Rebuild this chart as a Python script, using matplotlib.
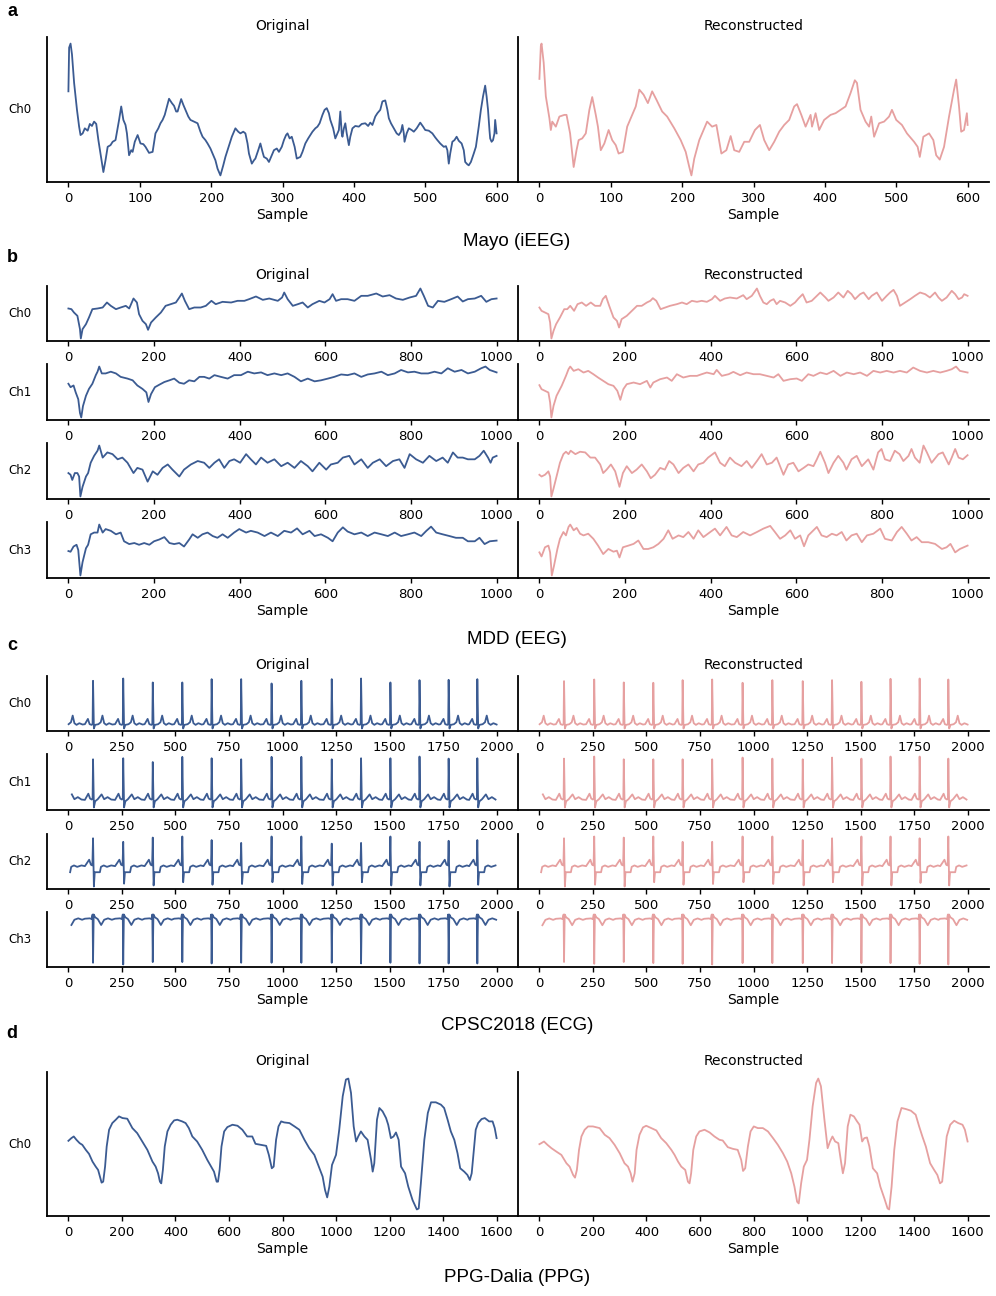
import matplotlib
matplotlib.use('Agg')
import matplotlib.pyplot as plt

BLUE = '#3b5b92'
PINK = '#e6a0a0'
W, H = 996, 1296

# ---------------- a: Mayo (iEEG), 600 samples, (sample, amplitude)
mayo_orig = [(0, 270), (1, 400), (3, 412), (5, 380), (8, 295), (12, 215), (15, 165), (17, 140),
             (20, 145), (23, 160), (27, 153), (30, 173), (33, 167), (36, 180), (39, 173), (42, 125),
             (45, 85), (49, 30), (52, 65), (55, 105), (59, 110), (62, 120), (66, 125), (71, 185),
             (74, 225), (77, 185), (80, 170), (82, 145), (85, 80), (88, 95), (90, 90), (93, 120),
             (97, 140), (101, 115), (105, 113), (108, 105), (113, 87), (118, 90), (122, 145), (126, 160),
             (129, 175), (132, 185), (135, 200), (141, 248), (145, 235), (148, 227), (151, 210), (153, 210),
             (158, 247), (161, 230), (164, 215), (168, 195), (171, 185), (176, 180), (181, 175), (185, 150),
             (188, 135), (192, 125), (195, 115), (199, 100), (202, 85), (206, 65), (209, 40), (213, 20),
             (217, 50), (220, 75), (223, 95), (226, 115), (229, 135), (232, 150), (234, 160), (238, 150),
             (241, 145), (245, 150), (248, 145), (251, 115), (253, 85), (257, 55), (260, 65), (262, 70),
             (266, 95), (269, 115), (272, 90), (274, 75), (278, 70), (281, 60), (285, 80), (288, 95),
             (292, 100), (295, 90), (299, 105), (302, 125), (305, 140), (307, 145), (310, 130), (313, 135),
             (317, 105), (320, 70), (325, 75), (328, 90), (332, 115), (336, 130), (339, 140), (342, 150),
             (346, 160), (349, 165), (352, 175), (356, 200), (359, 215), (362, 220), (365, 205), (367, 185),
             (371, 160), (374, 130), (377, 145), (379, 155), (381, 210), (383, 145), (384, 135), (386, 160),
             (388, 175), (390, 145), (393, 110), (395, 135), (398, 160), (402, 167), (407, 165), (411, 173),
             (416, 175), (420, 167), (423, 177), (426, 170), (430, 195), (433, 205), (437, 215), (440, 240),
             (444, 243), (447, 215), (449, 190), (452, 175), (456, 160), (460, 145), (463, 140), (466, 150),
             (468, 170), (470, 145), (471, 120), (474, 145), (477, 160), (481, 155), (484, 150), (488, 160),
             (493, 177), (497, 165), (500, 155), (505, 153), (510, 145), (514, 133), (517, 125), (521, 115),
             (526, 105), (529, 107), (531, 95), (533, 55), (535, 85), (538, 120), (541, 125), (544, 135),
             (547, 123), (551, 115), (554, 95), (556, 60), (559, 53), (561, 50), (564, 60), (568, 85),
             (571, 105), (575, 165), (578, 215), (581, 255), (584, 287), (586, 255), (588, 215), (590, 155),
             (591, 130), (593, 120), (595, 125), (597, 145), (598, 185), (600, 145)]
mayo_rec = [(0, 307), (2, 405), (3, 412), (6, 355), (9, 255), (14, 190), (16, 155), (18, 180),
            (23, 165), (28, 195), (35, 200), (38, 200), (43, 145), (46, 85), (48, 45), (52, 95),
            (55, 125), (60, 130), (65, 145), (70, 215), (74, 253), (79, 200), (82, 165), (86, 95),
            (91, 115), (97, 155), (102, 125), (107, 110), (111, 85), (117, 90), (123, 165), (130, 200),
            (135, 225), (140, 275), (146, 260), (152, 235), (158, 270), (164, 245), (172, 210), (179, 195),
            (189, 160), (198, 125), (205, 90), (210, 45), (213, 20), (217, 70), (224, 125), (231, 160),
            (235, 180), (242, 165), (248, 170), (255, 85), (262, 95), (268, 137), (273, 95), (280, 90),
            (287, 120), (294, 120), (302, 155), (309, 170), (315, 125), (322, 95), (329, 120), (336, 150),
            (343, 170), (350, 185), (357, 225), (361, 232), (367, 200), (373, 165), (380, 200), (382, 165),
            (387, 205), (392, 155), (399, 185), (408, 200), (415, 205), (422, 215), (429, 225), (436, 265),
            (442, 303), (445, 295), (450, 215), (457, 180), (462, 165), (465, 195), (469, 135), (476, 175),
            (483, 180), (490, 195), (494, 215), (500, 185), (508, 170), (515, 145), (525, 120), (530, 105),
            (533, 75), (538, 135), (546, 145), (552, 125), (556, 80), (561, 67), (567, 105), (574, 195),
            (581, 275), (584, 305), (588, 225), (591, 150), (595, 155), (599, 205), (600, 170)]

# ---------------- b: MDD (EEG), 4 channels, 1000 samples
mdd_orig_ch0 = [(0, 95), (7, 93), (13, 83), (21, 73), (27, 33), (29, 5), (33, 33), (41, 48), (48, 68),
                (56, 93), (68, 95), (80, 98), (90, 113), (99, 103), (111, 93), (122, 98), (134, 103),
                (142, 95), (152, 125), (160, 113), (165, 78), (173, 58), (181, 48), (186, 31), (193, 53),
                (204, 68), (216, 83), (227, 103), (239, 108), (251, 113), (259, 128), (265, 140), (272, 118),
                (282, 93), (294, 98), (309, 98), (321, 103), (334, 118), (344, 108), (360, 115), (380, 113),
                (395, 118), (411, 118), (422, 123), (438, 131), (454, 121), (469, 125), (489, 118), (499, 128),
                (504, 143), (512, 123), (524, 103), (536, 108), (547, 113), (559, 98), (570, 108), (586, 118),
                (598, 113), (610, 123), (617, 138), (625, 118), (637, 123), (652, 123), (668, 118), (684, 133),
                (699, 133), (719, 140), (734, 131), (750, 135), (765, 125), (781, 121), (797, 128), (812, 133),
                (822, 155), (830, 133), (840, 103), (851, 98), (863, 118), (878, 115), (894, 123), (909, 131),
                (921, 116), (933, 123), (949, 125), (964, 133), (976, 115), (988, 123), (1000, 125)]
mdd_orig_ch1 = [(0, 105), (5, 95), (12, 100), (17, 80), (23, 60), (27, 20), (30, 7), (34, 40), (41, 70),
                (48, 90), (56, 105), (64, 130), (68, 140), (72, 155), (78, 135), (87, 135), (99, 140),
                (111, 135), (122, 125), (138, 120), (150, 115), (161, 100), (173, 90), (182, 80), (187, 52),
                (193, 75), (202, 95), (212, 102), (224, 110), (236, 115), (247, 120), (259, 108), (270, 105),
                (282, 115), (294, 112), (306, 125), (317, 125), (329, 120), (341, 130), (356, 125), (372, 120),
                (387, 130), (403, 130), (419, 140), (434, 135), (450, 138), (465, 130), (481, 135), (497, 130),
                (512, 135), (528, 125), (543, 112), (559, 120), (575, 112), (590, 115), (606, 120), (621, 125),
                (637, 132), (652, 130), (668, 135), (684, 125), (699, 132), (715, 135), (731, 140), (746, 130),
                (762, 135), (777, 145), (793, 138), (808, 140), (824, 135), (840, 135), (855, 140), (871, 135),
                (886, 150), (902, 140), (918, 145), (933, 135), (949, 140), (964, 150), (974, 155), (984, 145),
                (1000, 138)]
mdd_orig_ch2 = [(0, 78), (5, 73), (9, 58), (15, 78), (21, 78), (25, 68), (28, 10), (33, 38), (41, 68),
                (46, 78), (52, 108), (60, 128), (68, 143), (72, 158), (80, 123), (91, 138), (103, 133),
                (115, 118), (126, 123), (138, 108), (152, 78), (161, 93), (173, 88), (185, 53), (197, 83),
                (208, 73), (220, 93), (232, 103), (243, 88), (259, 68), (270, 88), (286, 103), (302, 113),
                (317, 108), (329, 93), (341, 108), (352, 118), (364, 93), (376, 113), (387, 118), (401, 108),
                (415, 133), (426, 118), (438, 103), (450, 123), (465, 108), (481, 118), (497, 98), (512, 108),
                (528, 93), (543, 113), (559, 98), (570, 83), (586, 108), (602, 88), (613, 103), (629, 108),
                (641, 123), (656, 128), (668, 103), (684, 118), (699, 93), (711, 108), (727, 118), (742, 98),
                (758, 113), (773, 118), (785, 93), (797, 133), (812, 118), (828, 108), (843, 128), (859, 113),
                (874, 123), (886, 108), (898, 138), (909, 123), (921, 123), (933, 118), (949, 118), (960, 128),
                (970, 143), (980, 123), (986, 108), (991, 123), (1000, 128)]
mdd_orig_ch3 = [(0, 75), (5, 73), (12, 88), (19, 93), (23, 78), (28, 5), (33, 43), (41, 83), (46, 93),
                (52, 123), (60, 128), (68, 128), (72, 151), (80, 128), (87, 138), (99, 133), (111, 123),
                (122, 128), (130, 103), (142, 95), (154, 98), (165, 93), (177, 98), (189, 93), (200, 103),
                (212, 108), (224, 115), (236, 98), (247, 95), (259, 98), (270, 88), (282, 108), (290, 123),
                (302, 113), (313, 123), (325, 128), (337, 118), (348, 113), (360, 123), (372, 113), (387, 128),
                (399, 138), (415, 128), (426, 133), (442, 128), (458, 118), (473, 128), (489, 118), (504, 133),
                (520, 128), (534, 140), (547, 123), (563, 133), (575, 118), (590, 123), (606, 113), (617, 103),
                (629, 128), (641, 143), (652, 131), (668, 123), (684, 128), (699, 118), (715, 128), (731, 123),
                (746, 118), (762, 128), (777, 118), (793, 123), (808, 128), (824, 118), (836, 133), (847, 145),
                (859, 128), (874, 123), (890, 118), (905, 113), (921, 113), (933, 103), (949, 103), (960, 113),
                (972, 95), (984, 103), (1000, 105)]
mdd_rec_ch0 = [(0, 98), (5, 88), (13, 83), (21, 78), (25, 53), (28, 5), (33, 28), (39, 48), (48, 68),
               (58, 93), (65, 93), (72, 103), (81, 88), (89, 108), (99, 113), (109, 103), (120, 113),
               (130, 103), (142, 103), (148, 123), (155, 133), (163, 103), (173, 68), (181, 58), (186, 38),
               (192, 63), (204, 73), (216, 88), (228, 103), (239, 103), (251, 113), (259, 118), (265, 126),
               (273, 118), (283, 93), (294, 98), (305, 103), (321, 108), (333, 113), (344, 108), (356, 118),
               (368, 115), (379, 118), (391, 115), (403, 123), (410, 133), (422, 118), (433, 125), (445, 128),
               (461, 125), (476, 135), (484, 123), (496, 133), (508, 155), (515, 133), (523, 113), (531, 108),
               (539, 118), (547, 123), (554, 108), (562, 118), (574, 113), (586, 103), (597, 113), (605, 125),
               (615, 138), (624, 113), (636, 118), (648, 133), (656, 143), (668, 128), (675, 118), (687, 128),
               (698, 143), (710, 128), (720, 148), (729, 138), (737, 123), (749, 138), (757, 143), (769, 123),
               (776, 133), (788, 143), (800, 118), (811, 133), (819, 143), (827, 151), (835, 133), (842, 103),
               (854, 113), (866, 123), (877, 133), (889, 143), (901, 138), (912, 128), (924, 143), (932, 128),
               (940, 118), (951, 128), (963, 148), (971, 138), (979, 123), (987, 128), (992, 138), (1000, 133)]
mdd_rec_ch1 = [(0, 102), (5, 90), (13, 85), (21, 80), (25, 50), (28, 5), (33, 40), (40, 70), (52, 100),
               (62, 130), (68, 150), (72, 158), (80, 145), (91, 150), (103, 140), (114, 145), (126, 135),
               (137, 125), (149, 115), (161, 105), (173, 100), (182, 85), (189, 58), (196, 90), (204, 105),
               (220, 110), (235, 105), (251, 115), (259, 95), (266, 110), (282, 120), (298, 125), (309, 115),
               (321, 135), (336, 125), (352, 130), (368, 130), (379, 135), (391, 140), (407, 135), (414, 148),
               (426, 130), (442, 135), (453, 142), (469, 132), (484, 140), (500, 135), (515, 135), (531, 130),
               (547, 125), (558, 135), (570, 115), (586, 120), (601, 122), (613, 115), (628, 135), (640, 130),
               (656, 140), (671, 135), (687, 145), (703, 130), (718, 140), (734, 135), (749, 140), (765, 130),
               (780, 145), (796, 140), (811, 145), (827, 140), (842, 145), (858, 140), (873, 155), (889, 145),
               (905, 140), (920, 145), (936, 140), (951, 145), (963, 150), (973, 158), (982, 145), (1000, 140)]
mdd_rec_ch2 = [(0, 73), (5, 68), (13, 73), (21, 83), (25, 68), (28, 10), (33, 33), (40, 68), (48, 108),
               (56, 133), (62, 140), (68, 133), (73, 143), (84, 133), (95, 140), (107, 138), (119, 123),
               (130, 123), (142, 103), (149, 78), (157, 88), (167, 103), (177, 83), (187, 38), (195, 78),
               (204, 98), (216, 78), (227, 88), (239, 103), (251, 83), (260, 63), (270, 73), (282, 93),
               (293, 88), (303, 113), (313, 103), (325, 78), (336, 93), (348, 103), (360, 83), (371, 103),
               (383, 108), (394, 123), (410, 138), (422, 108), (433, 98), (445, 123), (457, 108), (472, 98),
               (484, 113), (496, 93), (508, 113), (519, 133), (531, 103), (543, 108), (554, 123), (570, 73),
               (581, 103), (593, 108), (605, 83), (617, 93), (628, 103), (640, 98), (648, 118), (656, 140),
               (667, 108), (675, 78), (687, 108), (698, 128), (710, 108), (717, 88), (729, 118), (741, 128),
               (753, 98), (768, 118), (780, 88), (791, 138), (799, 148), (807, 118), (819, 113), (830, 143),
               (841, 133), (850, 113), (862, 128), (869, 148), (877, 123), (888, 108), (897, 158), (905, 138),
               (916, 108), (932, 133), (942, 138), (956, 103), (963, 123), (971, 148), (979, 123), (989, 118),
               (1000, 130)]
mdd_rec_ch3 = [(0, 73), (5, 61), (13, 88), (21, 93), (25, 73), (29, 5), (34, 33), (42, 83), (48, 113),
               (56, 133), (62, 123), (68, 148), (72, 155), (80, 138), (87, 145), (95, 128), (103, 123),
               (114, 128), (126, 113), (137, 93), (149, 68), (161, 83), (173, 75), (181, 78), (187, 58),
               (195, 88), (208, 93), (220, 98), (231, 108), (243, 83), (254, 83), (266, 88), (278, 98),
               (290, 113), (301, 138), (311, 113), (325, 123), (336, 118), (348, 133), (360, 113), (371, 138),
               (383, 118), (399, 133), (410, 143), (422, 123), (437, 148), (449, 123), (461, 118), (476, 133),
               (492, 123), (508, 133), (523, 143), (539, 151), (550, 133), (562, 113), (574, 123), (586, 138),
               (597, 113), (609, 123), (618, 91), (628, 123), (640, 138), (648, 148), (659, 123), (671, 118),
               (683, 128), (694, 123), (706, 133), (717, 108), (729, 123), (741, 128), (753, 103), (765, 123),
               (780, 128), (796, 143), (807, 113), (823, 108), (835, 133), (846, 148), (858, 128), (869, 108),
               (881, 118), (893, 103), (908, 103), (924, 98), (940, 83), (951, 88), (960, 98), (971, 73),
               (982, 83), (1000, 93)]

# ---------------- c: CPSC2018 (ECG), 2000 samples
ecg_lead_in = -24  # beat just before sample 0, only its tail is visible
ecg_r_pos = [115, 256, 394, 532, 669, 807, 949, 1088, 1230, 1367, 1504, 1640, 1776, 1910]
# beat shape per channel: (offset from R, level); 'R' / 'S' = per-beat peak / trough
ecg_shape_ch0 = [(-38, 19), (-24, 35), (-16, 19), (-6, 17), (-2, 20), (0, 'R'), (4, 6), (10, 17),
                 (25, 19), (36, 25), (44, 45), (52, 22), (62, 17), (75, 22), (90, 18)]
ecg_shape_ch1 = [(-38, 32), (-22, 50), (-14, 36), (-6, 33), (-2, 36), (0, 'R'), (4, 10), (10, 28),
                 (22, 34), (40, 48), (52, 34), (68, 40), (85, 33)]
ecg_shape_ch2 = [(-38, 64), (-18, 82), (-10, 68), (-3, 66), (0, 'R'), (4, 'S'), (8, 47), (32, 47),
                 (37, 62), (50, 66), (65, 62), (85, 66)]
ecg_shape_ch3 = [(-38, 136), (-15, 137), (-6, 135), (-2, 148), (0, 'R'), (3, 148), (10, 140),
                 (22, 135), (38, 118), (52, 133), (70, 137), (88, 133)]
ecg_orig_r = [[150, 157, 145, 145, 155, 155, 142, 150, 155, 157, 145, 152, 153, 155],
              [150, 153, 142, 157, 153, 150, 157, 157, 150, 153, 153, 158, 152, 153],
              [142, 132, 144, 147, 137, 129, 147, 147, 127, 129, 147, 132, 135, 137],
              [10, 5, 12, 12, 8, 10, 10, 10, 10, 8, 10, 8, 8, 8]]
ecg_orig_s2 = [7, 15, 10, 19, 12, 14, 19, 14, 10, 19, 10, 10, 7, 12]
ecg_rec_r = [[150, 155, 146, 145, 153, 155, 145, 153, 150, 153, 148, 157, 158, 155],
             [152, 158, 150, 150, 150, 150, 155, 152, 150, 155, 152, 158, 158, 152],
             [142, 147, 144, 147, 132, 132, 147, 147, 137, 142, 147, 147, 142, 147],
             [15, 10, 15, 12, 10, 8, 12, 12, 12, 12, 12, 12, 10, 8]]
ecg_rec_s2 = [7, 12, 7, 19, 12, 14, 19, 14, 10, 19, 10, 10, 17, 10]

# ---------------- d: PPG-Dalia (PPG), 1600 samples
ppg_orig = [(0, 225), (11, 233), (20, 238), (30, 228), (42, 218), (52, 213), (65, 198), (77, 186),
            (90, 163), (102, 148), (111, 138), (118, 118), (124, 100), (130, 103), (137, 148), (143, 208),
            (152, 258), (164, 278), (177, 288), (189, 298), (202, 293), (220, 291), (239, 263), (257, 248),
            (276, 223), (295, 198), (314, 163), (326, 148), (335, 128), (342, 103), (347, 98), (353, 138),
            (360, 208), (370, 253), (382, 273), (395, 286), (407, 288), (425, 283), (438, 278), (450, 263),
            (463, 238), (481, 223), (500, 198), (519, 168), (532, 150), (544, 133), (554, 103), (559, 103),
            (565, 138), (572, 208), (582, 253), (594, 266), (613, 273), (632, 270), (650, 258), (668, 238),
            (687, 238), (699, 216), (718, 213), (739, 210), (749, 183), (760, 143), (767, 148), (776, 228),
            (785, 268), (795, 283), (806, 280), (826, 278), (845, 268), (863, 258), (882, 228), (900, 203),
            (919, 183), (938, 143), (950, 118), (959, 78), (967, 56), (975, 88), (985, 153), (1000, 183),
            (1012, 258), (1025, 358), (1037, 408), (1046, 411), (1056, 368), (1066, 268), (1075, 223),
            (1083, 238), (1093, 253), (1106, 238), (1118, 228), (1131, 168), (1137, 133), (1143, 158),
            (1153, 288), (1162, 323), (1174, 313), (1187, 293), (1195, 273), (1205, 233), (1215, 238),
            (1224, 250), (1234, 228), (1243, 148), (1258, 128), (1270, 88), (1286, 48), (1302, 20),
            (1309, 23), (1317, 98), (1330, 228), (1343, 308), (1355, 340), (1373, 340), (1392, 333),
            (1404, 323), (1417, 288), (1429, 253), (1442, 228), (1454, 188), (1464, 143), (1479, 133),
            (1491, 123), (1500, 108), (1507, 128), (1514, 188), (1522, 258), (1531, 278), (1544, 290),
            (1556, 293), (1572, 283), (1585, 283), (1593, 263), (1600, 233)]
ppg_rec = [(0, 215), (7, 218), (17, 223), (30, 213), (45, 203), (63, 193), (82, 183), (101, 158),
           (113, 148), (126, 123), (133, 115), (140, 138), (148, 198), (157, 238), (169, 258), (182, 268),
           (200, 268), (225, 263), (244, 243), (262, 233), (281, 213), (300, 188), (318, 158), (331, 148),
           (341, 128), (348, 103), (356, 128), (363, 198), (374, 243), (387, 265), (399, 270), (418, 263),
           (437, 256), (455, 233), (474, 218), (493, 198), (505, 183), (518, 163), (530, 148), (545, 138),
           (555, 103), (561, 98), (567, 128), (575, 198), (586, 238), (598, 253), (617, 258), (636, 250),
           (654, 238), (673, 228), (685, 226), (704, 206), (723, 201), (741, 198), (754, 168), (761, 135),
           (769, 143), (779, 208), (789, 253), (801, 268), (816, 263), (835, 263), (854, 253), (873, 233),
           (891, 213), (910, 188), (926, 163), (941, 128), (953, 88), (963, 43), (969, 38), (978, 98),
           (988, 148), (1000, 168), (1009, 228), (1021, 328), (1034, 398), (1042, 411), (1052, 388),
           (1065, 288), (1077, 203), (1086, 223), (1095, 238), (1105, 223), (1117, 218), (1127, 163),
           (1134, 128), (1142, 158), (1152, 268), (1162, 303), (1175, 298), (1187, 283), (1196, 273),
           (1206, 223), (1214, 233), (1224, 235), (1233, 208), (1246, 143), (1262, 128), (1274, 88),
           (1289, 53), (1301, 23), (1307, 20), (1316, 88), (1326, 198), (1338, 283), (1353, 323),
           (1369, 320), (1388, 315), (1406, 303), (1419, 268), (1431, 238), (1444, 208), (1460, 158),
           (1475, 138), (1487, 123), (1497, 98), (1505, 103), (1512, 158), (1522, 238), (1535, 273),
           (1550, 285), (1565, 278), (1581, 273), (1590, 258), (1600, 223)]


def ecg_trace(shape, r_amp, s_amp=None, n=2000):
    xs, ys = [], []
    beats = [(ecg_lead_in, None, None)] + [
        (r, r_amp[i], s_amp[i] if s_amp else None) for i, r in enumerate(ecg_r_pos)]
    for r, ra, sa in beats:
        for off, v in shape:
            x = r + off
            if x < 0 or x > n:
                continue
            xs.append(x)
            ys.append(ra if v == 'R' else sa if v == 'S' else v)
    return xs, ys


def unzip(pairs):
    return [p[0] for p in pairs], [p[1] for p in pairs]


def add_axes(fig, x0, top, bottom, width=471):
    return fig.add_axes([x0 / W, 1 - bottom / H, width / W, (bottom - top) / H])


def draw(ax, xs, ys, color, n, ch, show_ch):
    ax.plot(xs, ys, color=color, lw=1.3)
    ax.set_xlim(-0.05 * n, 1.05 * n)
    for s in ['top', 'right']:
        ax.spines[s].set_visible(False)
    for s in ['left', 'bottom']:
        ax.spines[s].set_linewidth(1.3)
    ax.set_yticks([])
    ax.tick_params(axis='x', labelsize=9.5, length=3.5, width=1, pad=3.5)
    if show_ch:
        ax.text(-0.032, 0.5, ch, transform=ax.transAxes, ha='right', va='center', fontsize=8.5)


ecg_orig = [ecg_trace(ecg_shape_ch0, ecg_orig_r[0]), ecg_trace(ecg_shape_ch1, ecg_orig_r[1]),
            ecg_trace(ecg_shape_ch2, ecg_orig_r[2], ecg_orig_s2), ecg_trace(ecg_shape_ch3, ecg_orig_r[3])]
ecg_rec = [ecg_trace(ecg_shape_ch0, ecg_rec_r[0]), ecg_trace(ecg_shape_ch1, ecg_rec_r[1]),
           ecg_trace(ecg_shape_ch2, ecg_rec_r[2], ecg_rec_s2), ecg_trace(ecg_shape_ch3, ecg_rec_r[3])]

panels = [
    ('a', 'Mayo (iEEG)', 600, [(37, 182)], [unzip(mayo_orig)], [unzip(mayo_rec)], 12, 242),
    ('b', 'MDD (EEG)', 1000, [(286, 341), (364, 420), (443, 499), (522, 578)],
     [unzip(mdd_orig_ch0), unzip(mdd_orig_ch1), unzip(mdd_orig_ch2), unzip(mdd_orig_ch3)],
     [unzip(mdd_rec_ch0), unzip(mdd_rec_ch1), unzip(mdd_rec_ch2), unzip(mdd_rec_ch3)], 258, 639),
    ('c', 'CPSC2018 (ECG)', 2000, [(676, 731), (754, 810), (834, 889), (912, 967)],
     ecg_orig, ecg_rec, 646, 1026),
    ('d', 'PPG-Dalia (PPG)', 1600, [(1072, 1216)], [unzip(ppg_orig)], [unzip(ppg_rec)], 1033, 1278),
]

fig = plt.figure(figsize=(W / 100, H / 100), dpi=100)

for letter, name, n, rows, orig, rec, ly, ny in panels:
    for i, (top, bottom) in enumerate(rows):
        axl = add_axes(fig, 47, top, bottom)
        axr = add_axes(fig, 518, top, bottom)
        draw(axl, orig[i][0], orig[i][1], BLUE, n, 'Ch%d' % i, True)
        draw(axr, rec[i][0], rec[i][1], PINK, n, 'Ch%d' % i, False)
        if i == 0:
            axl.set_title('Original', fontsize=10, pad=5)
            axr.set_title('Reconstructed', fontsize=10, pad=5)
        if i == len(rows) - 1:
            axl.set_xlabel('Sample', fontsize=10, labelpad=2.5)
            axr.set_xlabel('Sample', fontsize=10, labelpad=2.5)
    fig.text(12 / W, 1 - ly / H, letter, fontsize=13, fontweight='bold', family='Liberation Sans',
             ha='center', va='center')
    fig.text(517 / W, 1 - ny / H, name, fontsize=13.5, family='Liberation Sans',
             ha='center', va='center')

fig.savefig('out.png', dpi=100)
